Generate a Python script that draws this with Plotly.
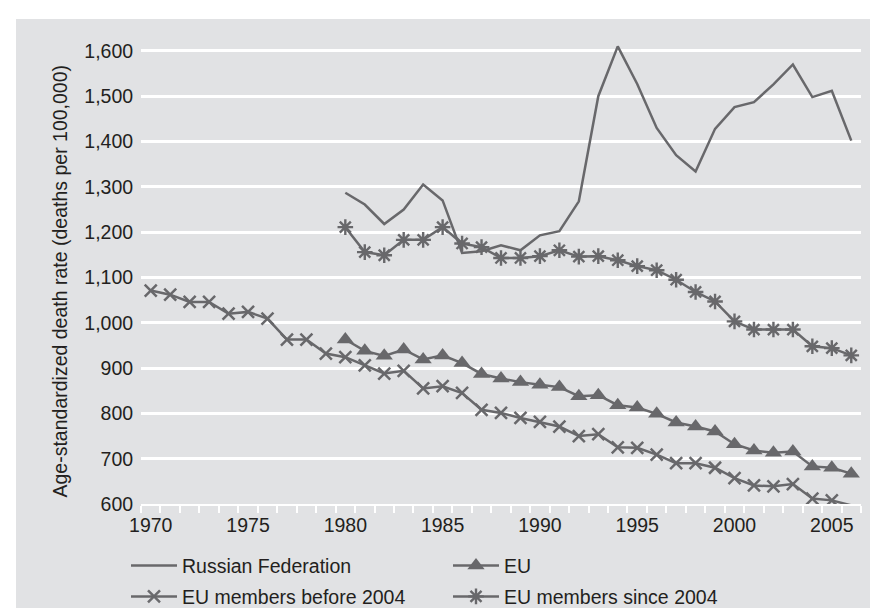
import plotly.graph_objects as go

years_ru = list(range(1980, 2007))
russia = [1287, 1261, 1218, 1250, 1305, 1270, 1154, 1158, 1171, 1160, 1193, 1202,
          1268, 1500, 1610, 1527, 1430, 1370, 1334, 1428, 1476, 1487, 1526, 1570,
          1498, 1512, 1402]

years_eu = list(range(1980, 2007))
eu = [963, 938, 927, 941, 919, 928, 911, 887, 877, 869, 863, 858, 838, 840, 818,
      813, 799, 780, 771, 760, 732, 718, 713, 716, 683, 680, 667]

years_before = list(range(1970, 2007))
eu_before = [1071, 1062, 1046, 1046, 1020, 1024, 1009, 963, 963, 932, 924, 906,
             888, 894, 855, 860, 845, 808, 801, 790, 781, 771, 750, 754, 725, 724,
             709, 690, 690, 680, 657, 641, 639, 644, 612, 608, 597]

years_since = list(range(1980, 2007))
eu_since = [1211, 1156, 1149, 1183, 1183, 1211, 1175, 1167, 1143, 1143, 1147, 1160,
            1146, 1147, 1138, 1125, 1116, 1095, 1068, 1047, 1003, 985, 985, 985,
            948, 944, 928]

y_ticks = list(range(600, 1700, 100))
x_ticks = list(range(1970, 2006, 5))

LINE = "#68686b"
BG = "#e1e2e4"
TXT = "#231f20"
FONT = "Liberation Sans, Arial, Helvetica, sans-serif"

fig = go.Figure()
fig.add_trace(go.Scatter(x=years_ru, y=russia, mode="lines", name="Russian Federation",
                         line=dict(color=LINE, width=2.5), legend="legend"))
fig.add_trace(go.Scatter(x=years_eu, y=eu, mode="lines+markers", name="EU",
                         line=dict(color=LINE, width=2.5), legend="legend",
                         marker=dict(symbol="triangle-up", size=15, color=LINE)))
before_opacity = [1] * (len(eu_before) - 1) + [0]
fig.add_trace(go.Scatter(x=years_before, y=eu_before, mode="lines+markers",
                         name="EU members before 2004", legend="legend2",
                         line=dict(color=LINE, width=2.5),
                         marker=dict(symbol="x-thin", size=12, color=LINE,
                                     opacity=before_opacity,
                                     line=dict(color=LINE, width=2.5))))
fig.add_trace(go.Scatter(x=years_since, y=eu_since, mode="lines+markers",
                         name="EU members since 2004", legend="legend2",
                         line=dict(color=LINE, width=2.5),
                         marker=dict(symbol="asterisk", size=13, color=LINE,
                                     line=dict(color=LINE, width=2.4))))

L, R, T, B = 133, 25, 13, 112
PW, PH = 878 - L - R, 608 - T - B

legend_common = dict(orientation="h", xanchor="left", yanchor="middle",
                     bgcolor="rgba(0,0,0,0)", itemwidth=46, entrywidth=261,
                     font=dict(family=FONT, size=19.5, color=TXT), traceorder="normal")

fig.update_layout(
    width=878, height=608,
    margin=dict(l=L, r=R, t=T, b=B, autoexpand=False),
    paper_bgcolor="white",
    plot_bgcolor=BG,
    font=dict(family=FONT, size=19.5, color=TXT),
    showlegend=True,
    legend=dict(x=(118 - L) / PW, y=(496 - 557.7) / PH, **legend_common),
    legend2=dict(x=(118 - L) / PW, y=(496 - 588.7) / PH, **legend_common),
    shapes=[dict(type="rect", xref="paper", yref="paper", layer="below",
                 x0=(8 - L) / PW, x1=1.1, y0=-0.3, y1=(496 - 11) / PH,
                 fillcolor=BG, line=dict(width=0))],
    annotations=[dict(text="Age-standardized death rate (deaths per 100,000)",
                      xref="paper", yref="paper", x=(51 - L) / PW, y=(496 - 273.5) / PH,
                      xanchor="center", yanchor="middle", textangle=-90, showarrow=False,
                      font=dict(family=FONT, size=19.5, color=TXT))],
)
fig.update_xaxes(range=[1969.5, 2006.5], tickvals=x_ticks, ticktext=[str(v) for v in x_ticks],
                 showgrid=False, zeroline=False, showline=True, linecolor="white", linewidth=2,
                 ticks="outside", ticklen=3, tickcolor="rgba(0,0,0,0)",
                 minor=dict(ticks="outside", tick0=1969.5, dtick=1, ticklen=7,
                            tickcolor="white", tickwidth=2, showgrid=False),
                 tickfont=dict(family=FONT, size=19.5, color=TXT))
fig.update_yaxes(range=[600, 1666], tickvals=y_ticks, tickformat=",",
                 showgrid=True, gridcolor="white", gridwidth=2.5, zeroline=False,
                 showline=False, ticks="outside", ticklen=3, tickcolor="rgba(0,0,0,0)",
                 tickfont=dict(family=FONT, size=19.5, color=TXT))

fig.write_html("out.html")
